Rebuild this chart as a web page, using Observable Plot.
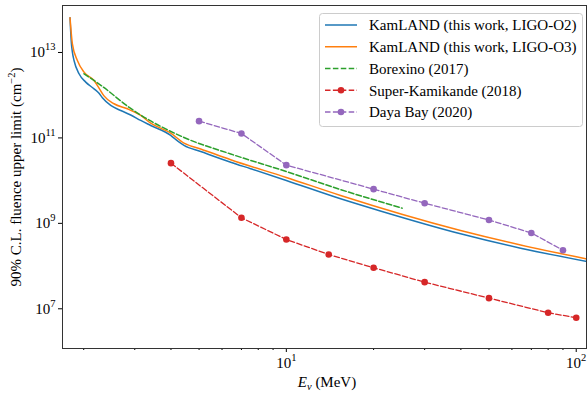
<!DOCTYPE html>
<html><head><meta charset="utf-8">
<script src="https://cdn.jsdelivr.net/npm/d3@7"></script>
<script src="https://cdn.jsdelivr.net/npm/@observablehq/plot@0.6"></script>
<style>
body{margin:0;background:#fff;}
#chart{width:587px;height:396px;font-family:"Liberation Serif",serif;}
</style></head><body><div id="chart"></div>
<script>
// ---- data ----
const kamO2E = [1.794, 1.814, 1.828, 1.852, 1.927, 2.032, 2.171, 2.259, 2.320, 2.478, 2.683, 2.905, 3.145, 3.405, 3.991, 4.153, 4.436, 5.064, 6.427, 7.53, 10, 15.39, 21.1, 39.9, 64.3, 109];
const kamO2  = [5.52e13, 1.36e13, 8.65e12, 5.53e12, 2.70e12, 1.72e12, 1.20e12, 9.4e11, 7.4e11, 4.89e11, 3.73e11, 2.93e11, 2.18e11, 1.66e11, 9.7e10, 7.8e10, 5.66e10, 4.09e10, 2.30e10, 1.62e10, 8.6e9, 3.2e9, 1.66e9, 4.85e8, 2.23e8, 1.09e8];
const kamO3E = [1.794, 1.828, 1.902, 2.005, 2.171, 2.259, 2.350, 2.544, 2.829, 3.145, 3.405, 3.991, 4.436, 5.064, 6.427, 10, 15.39, 39.9, 64.3, 109];
const kamO3  = [5.52e13, 1.36e13, 5.53e12, 2.94e12, 1.88e12, 1.25e12, 8.2e11, 5.36e11, 4.09e11, 2.85e11, 1.88e11, 1.10e11, 6.41e10, 4.69e10, 2.62e10, 1.01e10, 3.82e9, 5.79e8, 2.65e8, 1.25e8];
const borexE = [2.005, 2.292, 2.905, 4.436, 6.427, 10, 15.39, 25.1];
const borex  = [2.70e12, 1.45e12, 4.16e11, 8.7e10, 3.58e10, 1.39e10, 5.25e9, 1.93e9];
const skE = [4, 7, 10, 14, 20, 30, 50, 80, 100];
const sk  = [2.18e10, 1.15e9, 3.56e8, 1.59e8, 7.76e7, 3.57e7, 1.51e7, 6.87e6, 5.25e6];
const dbE = [5, 7, 10, 20, 30, 50, 70, 90];
const db  = [2.10e11, 1.08e11, 1.96e10, 5.37e9, 2.52e9, 1.02e9, 5.07e8, 2.0e8];
const yTicks = [1e7, 1e9, 1e11, 1e13];
const xMajor = [10, 100];
const xMinor = [2, 3, 4, 5, 6, 7, 8, 9, 20, 30, 40, 50, 60, 70, 80, 90];
const legendLabels = ["KamLAND (this work, LIGO-O2)", "KamLAND (this work, LIGO-O3)", "Borexino (2017)", "Super-Kamikande (2018)", "Daya Bay (2020)"];
const colors = ["#1f77b4", "#ff7f0e", "#2ca02c", "#d62728", "#9467bd"];

const toRows = (E, V) => E.map((e, i) => ({e, v: V[i]}));
const dash = "5.5,2.4";
const fmt = d => "10^" + Math.round(Math.log10(d));

const plot = Plot.plot({
  width: 587, height: 396,
  marginLeft: 62, marginRight: 1, marginTop: 5, marginBottom: 48,
  style: {fontFamily: "'Liberation Serif', serif", fontSize: "15px", background: "#fff", color: "#000"},
  x: {type: "log", domain: [1.69, 108.5]},
  y: {type: "log", domain: [1e6, 1.07e14]},
  marks: [
    Plot.axisY({ticks: yTicks, tickSize: 4, tickPadding: 3, tickFormat: fmt, label: null, dy: 3}),
    Plot.axisX({ticks: xMajor, tickSize: 4, tickPadding: 5, tickFormat: fmt, label: null}),
    Plot.axisX({ticks: xMinor, tickSize: 2, tickFormat: () => "", label: null}),
    Plot.line(toRows(kamO2E, kamO2), {x: "e", y: "v", stroke: colors[0], strokeWidth: 1.5, curve: "monotone-x"}),
    Plot.line(toRows(kamO3E, kamO3), {x: "e", y: "v", stroke: colors[1], strokeWidth: 1.5, curve: "monotone-x"}),
    Plot.line(toRows(borexE, borex), {x: "e", y: "v", stroke: colors[2], strokeWidth: 1.5, strokeDasharray: dash, curve: "monotone-x"}),
    Plot.line(toRows(skE, sk), {x: "e", y: "v", stroke: colors[3], strokeWidth: 1.3, strokeDasharray: dash}),
    Plot.dot(toRows(skE, sk), {x: "e", y: "v", fill: colors[3], r: 3.3}),
    Plot.line(toRows(dbE, db), {x: "e", y: "v", stroke: colors[4], strokeWidth: 1.3, strokeDasharray: dash}),
    Plot.dot(toRows(dbE, db), {x: "e", y: "v", fill: colors[4], r: 3.3}),
    Plot.frame({stroke: "#333", strokeWidth: 1})
  ]
});

const svg = d3.select(plot);
// superscript exponents in tick labels
svg.selectAll('g[aria-label="y-axis tick label"] text, g[aria-label="x-axis tick label"] text').each(function () {
  const t = d3.select(this);
  const m = t.text().match(/^10\^(-?\d+)$/);
  if (!m) return;
  t.text("10");
  t.append("tspan").attr("dy", -7).attr("font-size", "10.5px").text(m[1]);
});

// axis labels
const yl = svg.append("text")
  .attr("transform", "translate(21,177) rotate(-90)")
  .attr("text-anchor", "middle").attr("font-size", "15px").attr("fill", "#000");
yl.append("tspan").text("90% C.L. fluence upper limit (cm");
yl.append("tspan").attr("dy", -6).attr("font-size", "10.5px").text("\u22122");
yl.append("tspan").attr("dy", 6).attr("font-size", "15px").text(")");

const xl = svg.append("text")
  .attr("x", 327).attr("y", 386.5)
  .attr("text-anchor", "middle").attr("font-size", "15px").attr("fill", "#000");
xl.append("tspan").attr("font-style", "italic").text("E");
xl.append("tspan").attr("font-style", "italic").attr("font-size", "10.5px").attr("dy", 3).text("\u03BD");
xl.append("tspan").attr("dy", -3).text(" (MeV)");

// legend
const lg = svg.append("g").attr("text-anchor", "start");
lg.append("rect").attr("x", 319.5).attr("y", 13.5).attr("width", 263).attr("height", 113)
  .attr("rx", 3).attr("fill", "#fff").attr("fill-opacity", 0.8).attr("stroke", "#ccc");
legendLabels.forEach((lab, i) => {
  const y = 25 + i * 21.75;
  const ln = lg.append("line").attr("x1", 325).attr("x2", 357).attr("y1", y).attr("y2", y)
    .attr("stroke", colors[i]).attr("stroke-width", i < 3 ? 1.5 : 1.3);
  if (i >= 2) ln.attr("stroke-dasharray", dash);
  if (i >= 3) lg.append("circle").attr("cx", 341).attr("cy", y).attr("r", 3.3).attr("fill", colors[i]);
  lg.append("text").attr("x", 369).attr("y", y).attr("dy", "0.35em").attr("font-size", "15px")
    .attr("text-anchor", "start").attr("fill", "#000").text(lab);
});

document.getElementById("chart").appendChild(plot);
</script>
</body></html>
